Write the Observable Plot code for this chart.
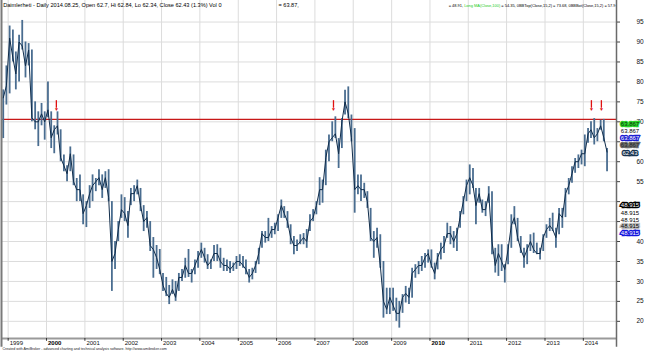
<!DOCTYPE html>
<html><head><meta charset="utf-8">
<script src="https://cdn.jsdelivr.net/npm/d3@7"></script>
<script src="https://cdn.jsdelivr.net/npm/@observablehq/plot@0.6"></script>
<style>html,body{margin:0;padding:0;background:#fff;} svg{display:block}</style>
</head><body><div id="chart"></div>
<script>
// ---- data (monthly bars, first bar = Nov 1998) ----
const firstMonth = [1998, 10];
const high = [78,84,
 94,93,87.5,91.7,95.4,90,89.6,88,75,72.5,74.6,72.5,
 80,72.5,69,72.5,68,61.7,59,63.7,61.7,55.8,56.7,51.7,
 50,54,56.7,55.8,58,56.7,57.5,58,50,40,45,51.7,
 51,47.5,53.3,54,55.4,53.3,49,47.5,45,41,39,38,
 32,31,29,30.4,30,32,33,35.8,38,33,35.4,37.5,
 39.6,38.3,36.7,35.4,39,39.2,38.3,35.8,35.4,35,34.6,36.25,
 36.7,36.25,35.4,33,33.3,35,38.3,42.5,42.5,45.8,43.75,44.6,
 46.7,50.4,48.75,47.5,44.2,41.25,40.4,41.7,42,43,46.7,48,
 50,56,55.4,62.9,66.7,70,71.25,65.8,70.8,77.9,78.75,71.7,
 68.3,56.7,56.7,54.6,52.5,48.3,42.5,43.3,41.7,35,28.3,28.3,
 28.3,25.8,25,26.7,28.75,28.3,33.3,34.2,35,36.25,37,37.9,
 37.9,34.6,37,39.6,41.25,44.6,43.75,42.5,43.3,47.5,51.25,55.4,
 59.2,58.3,53.3,53.3,50.4,50,53.75,52.5,38.3,39.2,39.2,34.2,
 39.2,46.7,48.75,45.8,41.25,38.3,39.2,41.7,42.1,39.6,38.3,41.7,
 44.2,45.8,47.1,43.3,48.3,48.3,53.3,55.8,58.75,60.8,61.7,62.9,
 66.7,68.3,70,70.8,68.3,70.4,70.6,63.3];
const low = [65.8,74.2,
 77,85,78,80,88,81,84,70,68,63.8,69,65.4,
 71,63.3,62,66.7,60,57.5,55,57.5,54,50,50,44.2,
 43.5,48.3,50,52.5,54,50.8,53.3,50,27.5,33,40,45.8,
 45,40.8,49,50,51.7,47.5,42.5,43.3,37.5,30.8,33,31.7,
 27.5,26.2,24.2,26.7,25,27.5,30,30.8,31,29.6,31.7,33.3,
 35.8,34.6,33,33,35,35,33.3,32.5,32.5,32,32.5,33,
 33.75,33.3,31.7,29.6,30.4,32,34.2,38.3,39.6,40,40.8,41.7,
 42.5,45.8,45.8,43.3,39.2,36.7,37.5,39.2,39.2,38.3,42.5,45,
 46.7,49,49.6,54,60,65,65.8,58.3,63.3,71.7,70.8,65,
 47.1,51.7,50,50.8,48.3,40,35.8,38.3,33.3,20.8,21.7,21.7,
 22.5,20,18.3,22,24.6,24.2,25.8,30.8,31.7,32.5,33.3,34.6,
 33.3,30.4,32.9,35.4,37,40.8,39.2,38.3,37.5,43.3,46.7,50,
 51.7,53.3,44.2,49.6,47.1,46.25,49.6,36.7,32.1,31.25,32.5,29.6,
 34.2,38.3,44.2,40,37,33.3,34.2,37.5,37,36.7,35.4,37.5,
 40.8,42.5,42.5,38.3,41.7,43.3,46,51.7,54.6,57.1,58.3,59.2,
 58.75,64.6,65.8,64.2,65,67.9,65,57.5];
const close = [76,79,
 91,86,82,90,89,84,88,71,70,70,72,70,
 73,66,68,69,61,59,57,62,55,53,53,47,
 49,52,54,55,56,53,56,51,35,37,43,48,
 47,44,52,52,54,49,45,46,39,38,36,33,
 29,27,26,28,26,31,31,34,32,32,34,36,
 38,36,34,35,37,37,35,34,34,33,34,35,
 35,34,33,31,32,34,37,42,41,41,43,43,
 46,49,47,45,41,39,39,40,41,40,45,46,
 49,53,53,61,65,66,67,62,70,75,72,66,
 53,54,53,53,50,41,40,41,34,25,23,26,
 24,22,22,26,27,26,32,33,34,34,36,37,
 34,32,36,38,39,42,42,40,42,46,50,54,
 56,54,49,52,48,48,52,40,34,37,35,33,
 38,44,46,41,38,36,38,40,38,37,37,41,
 43,44,43,41,47,46,52,54,57,60,60,62,
 62,67,68,66,67,69,66,62.43];
const years = d3.range(1999, 2015);
const boldYears = [2000, 2010];
const yTicks = d3.range(20, 100, 5);
const hiddenTickLabels = [45, 50, 65];   // covered by the value tags in the reference
const redLevel = 70.6;
const arrowDates = ["2000-04-04", "2007-06-27", "2014-03-19", "2014-06-22"];
const arrowTop = 75.3, arrowTip = 72.6;
const labelValues = [63.867, 63.867, 63.867, 63.867, 62.43, 48.915, 48.915, 48.915, 48.915, 48.915];
const headerMain = "Daimlerheti - Daily 2014.08.25, Open 62.7, Hi 62.84, Lo 62.34, Close 62.43 (1.3%) Vol 0";
const headerMid = "= 63.87,";
const headerRight = ["= 48.91, ", "Long MA(Close,100)", " = 54.35, 0BBTop(Close,15,2) = 73.68, 0BBBot(Close,15,2) = 57.9"];
const caption = "Created with AmiBroker - advanced charting and technical analysis software. http://www.amibroker.com";

// ---- styles ----
const FONT = "Arial, 'Liberation Sans', sans-serif";
const labelStyle = [
  {bg: "#2ad42a", fg: "#0a2a0a", dy: -22},
  {bg: null, fg: "#000", dy: -15.6},
  {bg: "#1c1cd2", fg: "#fff", dy: -8},
  {bg: "#6c6c6c", fg: "#262626", dy: -1.3},
  {bg: "#17324f", fg: "#fff", dy: 0.6},
  {bg: "#000", fg: "#fff", dy: -0.5},
  {bg: null, fg: "#000", dy: 7},
  {bg: null, fg: "#000", dy: 14},
  {bg: "#bdbdbd", fg: "#000", dy: 20},
  {bg: "#1414dc", fg: "#fff", dy: 27.5}
];

const bars = close.map((c, i) => ({
  date: new Date(Date.UTC(firstMonth[0], firstMonth[1] + i, 15)),
  hi: high[i], lo: low[i], close: c
}));
const yearDate = y => new Date(Date.UTC(y, 0, 1));
const xDomain = [new Date(Date.UTC(1998, 10, 8)), new Date(Date.UTC(2014, 10, 13))];
const yDomain = [15.7, 100.4];

const labelMarks = labelValues.map((v, i) => {
  const s = labelStyle[i];
  const o = {frameAnchor: "right", y: () => v, dx: 13.5, dy: s.dy, text: d => d,
    fill: s.fg, fontSize: 6, fontFamily: FONT, textAnchor: "middle", lineAnchor: "middle"};
  if (s.bg) Object.assign(o, {stroke: s.bg, strokeWidth: 2.6, paintOrder: "stroke", strokeLinejoin: "miter"});
  return Plot.text([v === 62.43 ? "62.43" : v.toFixed(3)], o);
});

const svg = Plot.plot({
  width: 645, height: 351,
  marginTop: 0, marginBottom: 13, marginLeft: 2, marginRight: 29,
  style: {background: "#fff", fontFamily: FONT},
  x: {type: "utc", domain: xDomain, axis: null},
  y: {domain: yDomain, axis: null},
  marks: [
    Plot.gridY(yTicks, {stroke: "#dcdcdc", strokeOpacity: 1}),
    Plot.gridX(years.map(yearDate), {stroke: "#dcdcdc", strokeOpacity: 1}),
    Plot.ruleY([redLevel], {stroke: "#c81818", strokeWidth: 1.3}),
    Plot.ruleX(bars, {x: "date", y1: "lo", y2: "hi", stroke: "#4a6d90", strokeWidth: 1.8}),
    Plot.line(bars, {x: "date", y: "close", stroke: "#102c4a", strokeWidth: 1}),
    Plot.ruleX(arrowDates, {x: d => new Date(d), y1: arrowTop, y2: arrowTip + 0.8, stroke: "#e01010", strokeWidth: 1.3}),
    Plot.text(arrowDates, {x: d => new Date(d), y: arrowTip + 0.5, text: () => "\u25BC", fill: "#e01010", fontSize: 5, lineAnchor: "middle"}),
    // frame lines
    Plot.ruleY([yDomain[0]], {stroke: "#9a9a9a", strokeWidth: 2}),
    Plot.ruleX([xDomain[0]], {y1: yDomain[1], y2: 13.5, stroke: "#7a7a7a", strokeWidth: 2, dx: -1}),
    Plot.ruleX([xDomain[1]], {y1: yDomain[1], y2: 13.5, stroke: "#6a6a6a", strokeWidth: 1.5}),
    // right axis
    Plot.axisY({anchor: "right", ticks: yTicks, tickSize: 3, tickPadding: 17, fontSize: 6.5, fontFamily: FONT, label: null, stroke: "#444", fill: "#111",
      tickFormat: d => hiddenTickLabels.includes(d) ? "" : String(d)}),
    // bottom axis ticks & labels
    Plot.ruleX(years.map(yearDate), {y1: yDomain[0], y2: yDomain[0] - 0.7, stroke: "#333"}),
    Plot.text(years.filter(y => !boldYears.includes(y)), {x: yearDate, y: () => yDomain[0], dy: 4.8, dx: 1.5, text: d => String(d), textAnchor: "start", lineAnchor: "middle", fontSize: 6, fill: "#111"}),
    Plot.text(boldYears, {x: yearDate, y: () => yDomain[0], dy: 4.8, dx: 1.5, text: d => String(d), textAnchor: "start", lineAnchor: "middle", fontSize: 6, fontWeight: "bold", fill: "#000"}),
    // value labels on the right
    ...labelMarks,
    // header & caption
    Plot.text([headerMain], {frameAnchor: "top-left", dx: 0.7, dy: 4.8, text: d => d, textAnchor: "start", lineAnchor: "middle", fontSize: 5.6, fill: "#000"}),
    Plot.text([headerMid], {frameAnchor: "top-left", dx: 276, dy: 4.8, text: d => d, textAnchor: "start", lineAnchor: "middle", fontSize: 5.6, fill: "#000"}),
    Plot.text([headerRight.join("")], {frameAnchor: "top-right", dx: -1, dy: 4.8, text: d => d, textAnchor: "end", lineAnchor: "middle", fontSize: 3.95, fill: "#000"}),
    Plot.text([caption], {frameAnchor: "bottom-left", dx: 0, dy: 10, text: d => d, textAnchor: "start", lineAnchor: "middle", fontSize: 3.6, fill: "#222"})
  ]
});

// colour the moving-average name in the right-hand header
d3.select(svg).selectAll("text").filter(function () { return this.textContent === headerRight.join(""); })
  .each(function () {
    const t = d3.select(this);
    t.text(null).style("white-space", "pre");
    headerRight.forEach((s, i) => t.append("tspan").attr("fill", i === 1 ? "#22cc22" : null).text(s));
  });

document.getElementById("chart").appendChild(svg);
</script>
</body></html>
